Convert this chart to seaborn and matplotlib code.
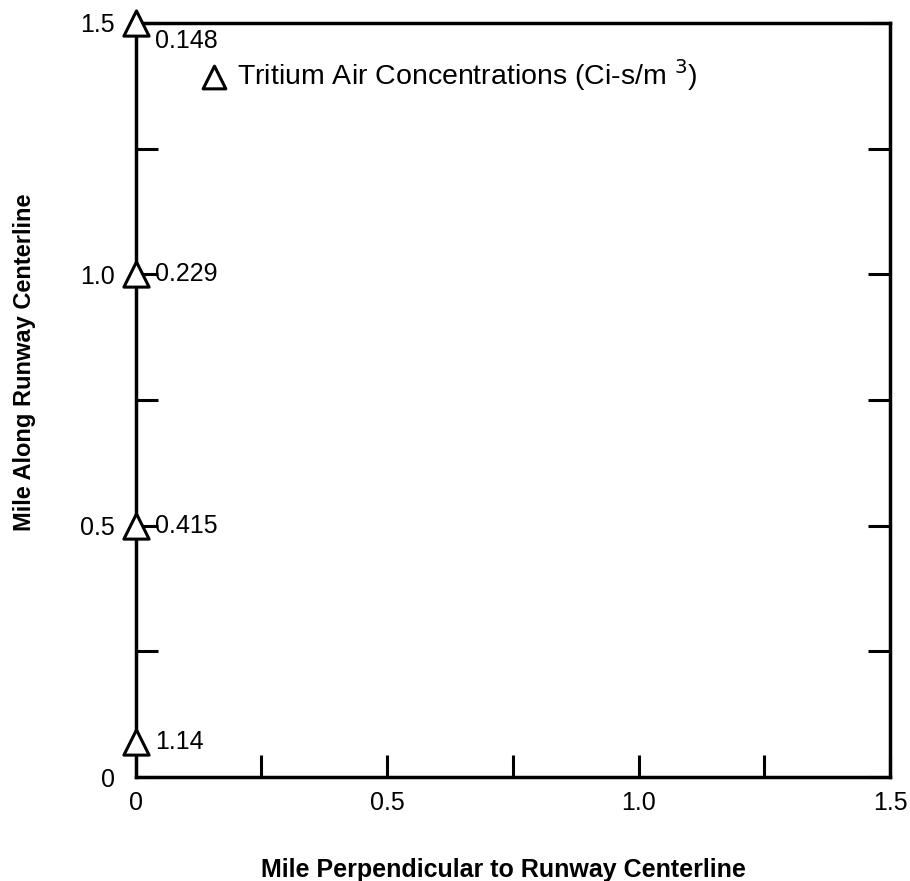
import matplotlib
matplotlib.use("Agg")
import matplotlib.pyplot as plt
import seaborn as sns
import pandas as pd

# sample points along the runway centerline (miles) and tritium values
x_pos = [0.0, 0.0, 0.0, 0.0]
y_pos = [1.5, 1.0, 0.5, 0.07]
conc_labels = ["0.148", "0.229", "0.415", "1.14"]

tick_vals = [0, 0.25, 0.5, 0.75, 1.0, 1.25, 1.5]
tick_text = ["0", "", "0.5", "", "1.0", "", "1.5"]

sns.set_style("ticks")
plt.rcParams['font.family'] = ['Liberation Sans', 'DejaVu Sans']
plt.rcParams['text.color'] = 'black'
plt.rcParams['axes.labelcolor'] = 'black'

df = pd.DataFrame({'x': x_pos, 'y': y_pos, 'label': conc_labels})

fig = plt.figure(figsize=(9.1, 8.81), dpi=100)
ax = fig.add_axes([0.149, 0.118, 0.829, 0.856])

sns.scatterplot(data=df, x='x', y='y', marker='^', s=330, facecolor='white',
                edgecolor='black', linewidth=2.2, ax=ax, clip_on=False, zorder=5,
                label='Tritium Air Concentrations (Ci-s/m $^3$)')

# value labels next to each triangle
for _, r in df.iterrows():
    dy = -0.035 if r['y'] == 1.5 else 0.0
    ax.annotate(r['label'], (r['x'], r['y'] + dy), xytext=(14, 0),
                textcoords='offset points', ha='left', va='center', fontsize=18)

ax.set_xlim(0, 1.5)
ax.set_ylim(0, 1.5)
ax.set_xticks(tick_vals)
ax.set_xticklabels(tick_text)
ax.set_yticks(tick_vals)
ax.set_yticklabels(tick_text)
ax.tick_params(axis='both', direction='in', length=16, width=2.2, labelsize=18,
               right=True, top=False, colors='black')
ax.tick_params(axis='x', pad=10)
ax.tick_params(axis='y', pad=15)
for s in ax.spines.values():
    s.set_linewidth(2.5)
    s.set_color('black')
    s.set_visible(True)

ax.set_xlabel('Mile Perpendicular to Runway Centerline', fontsize=18, fontweight='bold')
ax.set_ylabel('Mile Along Runway Centerline', fontsize=17, fontweight='bold')
ax.xaxis.set_label_coords(0.487, -0.108)
ax.yaxis.set_label_coords(-0.132, 0.55)

leg = ax.legend(loc='upper left', bbox_to_anchor=(0.085, 0.955), frameon=False,
                fontsize=20.5, handletextpad=0.3, handlelength=1.0, markerscale=0.9,
                borderaxespad=0, borderpad=0)

fig.savefig('out.png', dpi=100)
